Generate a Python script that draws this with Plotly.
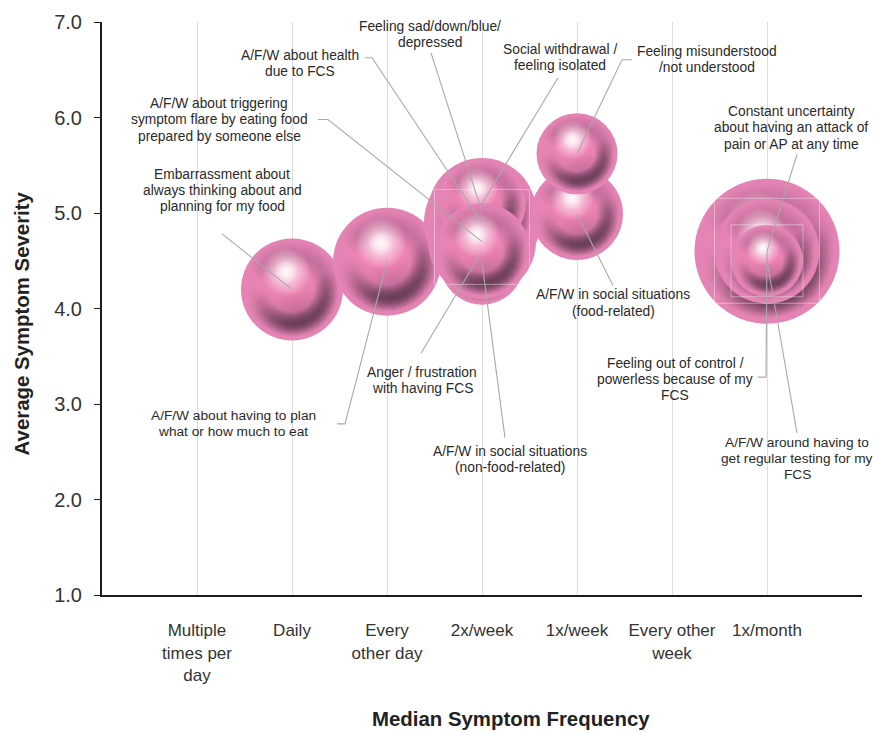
import math
import plotly.graph_objects as go

# Chart data
frequency_labels = ["Multiple<br>times per<br>day", "Daily", "Every<br>other day", "2x/week",
                    "1x/week", "Every other<br>week", "1x/month", ""]
symptoms = ["Embarrassment", "Plan eating", "Health", "Trigger food", "Sad", "Withdrawal",
            "Non-food social", "Anger", "Food social", "Misunderstood",
            "Uncertainty", "Out of control", "Testing"]
frequency = [2, 3, 4, 4, 4, 4, 4, 4, 5, 5, 7, 7, 7]
severity = [4.20, 4.49, 4.90, 4.70, 5.01, 5.10, 4.48, 4.60, 4.99, 5.62, 4.60, 4.60, 4.50]
bubble_px = [102, 108, 116, 108, 108, 88, 84, 96, 92, 81, 145, 105, 72]

# Plot frame in pixels
L, R, T, B = 102, 862, 19, 595
X_UNIT = (R - L) / 8
Y_UNIT = (B - T) / 6
TEXT_NUDGE = 1.5  # rendered text sits slightly low of its anchor


def ax(px):
    return (px - L) / X_UNIT


def ay(py):
    return 1 + (B - py) / Y_UNIT


def sphere(x, y, d):
    """One shaded ball: base disc, soft shadow blobs round the edge, then a highlight."""
    r = d / 2
    # Plotly radial gradients run from gradient.color at the centre to marker.color at the edge
    xs, ys, sizes, edges, centres = [x], [y], [d], ["rgb(228,132,180)"], ["rgb(243,132,182)"]

    def blob(angle_deg, dist, radius, rgba_centre, rgba_edge):
        a = math.radians(angle_deg)
        xs.append(x + math.cos(a) * dist * r / X_UNIT)
        ys.append(y + math.sin(a) * dist * r / Y_UNIT)
        sizes.append(2 * radius * r)
        centres.append(rgba_centre)
        edges.append(rgba_edge)

    # Dull mauve cap across the top and down the right
    for ang in (20, 40, 60, 80, 100, 120, 140):
        blob(ang, 0.70, 0.29, "rgba(115,65,100,0.26)", "rgba(115,65,100,0)")
    # Lower shadow band, strongest just right of the bottom
    for ang, alpha in ((-170, 0.06), (-158, 0.10), (-146, 0.18), (-134, 0.26), (-122, 0.36),
                       (-110, 0.46), (-98, 0.54), (-86, 0.58), (-74, 0.58), (-62, 0.56),
                       (-50, 0.54), (-38, 0.50), (-26, 0.46), (-14, 0.40), (-2, 0.32),
                       (10, 0.24)):
        blob(ang, 0.68, 0.26, "rgba(62,38,56,%.2f)" % alpha, "rgba(62,38,56,0)")
    # Broad soft shade lifting the band toward the middle
    for ang, alpha in ((-125, 0.10), (-95, 0.18), (-65, 0.18), (-35, 0.12)):
        blob(ang, 0.50, 0.48, "rgba(110,60,95,%.2f)" % alpha, "rgba(110,60,95,0)")
    # Specular highlight
    blob(108, 0.36, 0.48, "rgba(255,255,255,0.90)", "rgba(255,255,255,0)")
    blob(108, 0.36, 0.24, "rgba(255,255,255,0.65)", "rgba(255,255,255,0)")

    return go.Scatter(
        x=xs, y=ys, mode="markers", hoverinfo="skip", showlegend=False, cliponaxis=False,
        marker=dict(size=sizes, color=edges, opacity=1, line=dict(width=0),
                    gradient=dict(type="radial", color=centres)),
    )


fig = go.Figure()

for xv, yv, dv in zip(frequency, severity, bubble_px):
    fig.add_trace(sphere(xv, yv, dv))

# Faint outlines left around some of the balls
frame_x = [4, 7, 7]
frame_y = [ay(235), ay(249), ay(259)]
frame_px = [95, 105, 72]
fig.add_trace(go.Scatter(x=frame_x, y=frame_y, mode="markers", hoverinfo="skip", showlegend=False,
                         marker=dict(symbol="square-open", size=frame_px,
                                     color="rgba(240,235,240,0.65)", line=dict(width=1))))

# Callouts: text lines, text centre, font size and the leader's tail
callouts = [
    (["Embarrassment about", "always thinking about and", "planning for my food"], 222, 190, 13.8, [(222, 232)], 0),
    (["A/F/W about having to plan", "what or how much to eat"], 233, 424, 13.7, [(337, 423), (345, 423)], 1),
    (["A/F/W about health", "due to FCS"], 300, 62, 13.8, [(365, 55), (372, 55)], 2),
    (["A/F/W about triggering", "symptom flare by eating food", "prepared by someone else"], 219, 119, 13.75,
     [(318, 117), (328, 117)], 3),
    (["Feeling sad/down/blue/", "depressed"], 430, 33, 13.8, [(431, 50)], 4),
    (["Social withdrawal /", "feeling isolated"], 560, 56, 13.8, [(558, 75)], 5),
    (["A/F/W in social situations", "(non-food-related)"], 510, 460, 13.8, [(505, 437)], 6),
    (["Anger / frustration", "with having FCS"], 422, 381, 13.8, [(421, 352)], 7),
    (["A/F/W in social situations", "(food-related)"], 613, 303, 13.8, [(613, 284)], 8),
    (["Feeling misunderstood", "/not understood"], 707, 58, 13.8, [(632, 57), (622, 57)], 9),
    (["Constant uncertainty", "about having an attack of", "pain or AP at any time"], 791, 127, 13.8, [(797, 152)], 10),
    (["Feeling out of control /", "powerless because of my", "FCS"], 675, 380, 13.8, [(758, 376), (766, 376)], 11),
    (["A/F/W around having to", "get regular testing for my", "FCS"], 797, 459, 13.7, [(797, 432)], 12),
]
LINE_GAP = 16.2

annotations = []
for lines, cx, cy, fsize, tail, idx in callouts:
    lx = [ax(p[0]) for p in tail] + [frequency[idx]]
    ly = [ay(p[1]) for p in tail] + [severity[idx]]
    fig.add_trace(go.Scatter(x=lx, y=ly, mode="lines", hoverinfo="skip", showlegend=False,
                             line=dict(color="#a9a9a9", width=1.1)))
    for n, line in enumerate(lines):
        py = cy + (n - (len(lines) - 1) / 2) * LINE_GAP - TEXT_NUDGE
        annotations.append(dict(x=ax(cx), y=ay(py), xref="x", yref="y", text=line, showarrow=False,
                                xanchor="center", yanchor="middle",
                                font=dict(family="Liberation Sans", size=fsize, color="#2a2a2a")))

# Axis titles sit off the plot's centre, so they are placed directly
annotations.append(dict(x=(511 - L) / (R - L), y=(B - 720) / (B - T), xref="paper", yref="paper",
                        text="<b>Median Symptom Frequency</b>", showarrow=False,
                        xanchor="center", yanchor="middle",
                        font=dict(family="Liberation Sans", size=20.4, color="#222222")))
annotations.append(dict(x=(22 - L) / (R - L), y=(B - 322) / (B - T), xref="paper", yref="paper",
                        text="<b>Average Symptom Severity</b>", textangle=-90, showarrow=False,
                        xanchor="center", yanchor="middle",
                        font=dict(family="Liberation Sans", size=20.4, color="#222222")))

fig.update_layout(
    width=873, height=732, autosize=False,
    margin=dict(l=L, r=873 - R, t=T, b=732 - B, pad=0),
    paper_bgcolor="white", plot_bgcolor="white",
    annotations=annotations,
    font=dict(family="Liberation Sans", color="#222222"),
    xaxis=dict(
        range=[0, 8], tickmode="array", tickvals=list(range(1, 9)), ticktext=frequency_labels,
        showgrid=True, gridcolor="#dddddd", gridwidth=1.3, zeroline=False,
        showline=True, linecolor="#1c1c1c", linewidth=2, ticks="", ticklabelstandoff=19,
        tickangle=0, tickfont=dict(size=17, color="#333333"),
    ),
    yaxis=dict(
        range=[1, 7], tickmode="array", tickvals=[1, 2, 3, 4, 5, 6, 7],
        ticktext=["1.0", "2.0", "3.0", "4.0", "5.0", "6.0", "7.0"],
        showgrid=False, zeroline=False, showline=True, linecolor="#1c1c1c", linewidth=2,
        ticks="outside", ticklen=6, tickcolor="#1c1c1c", tickwidth=1.3, ticklabelstandoff=8,
        tickfont=dict(size=20, color="#333333"),
    ),
)

fig.write_html("out.html", config=dict(displayModeBar=False))
